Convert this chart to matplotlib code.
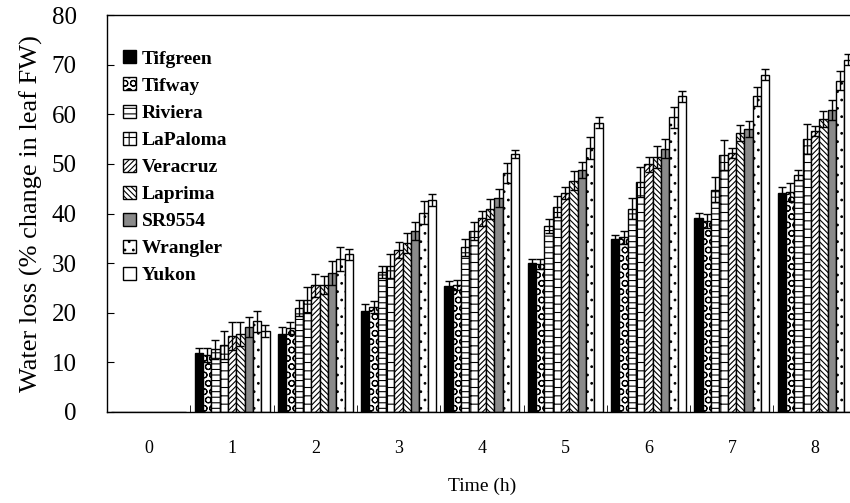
import numpy as np
import matplotlib
matplotlib.use("Agg")
import matplotlib.pyplot as plt
from matplotlib.ticker import MultipleLocator

plt.rcParams['font.family'] = ['Liberation Serif', 'DejaVu Serif']
plt.rcParams['hatch.linewidth'] = 0.8

hours = [0, 1, 2, 3, 4, 5, 6, 7, 8]
cultivars = ['Tifgreen', 'Tifway', 'Riviera', 'LaPaloma', 'Veracruz',
             'Laprima', 'SR9554', 'Wrangler', 'Yukon']

# water loss (% change in leaf FW) per cultivar, hours 0..8
tifgreen = [0, 11.8, 15.8, 20.3, 25.4, 30.0, 34.8, 39.1, 44.2]
tifway = [0, 11.5, 17.0, 21.2, 25.5, 29.8, 35.2, 38.5, 44.4]
riviera = [0, 12.6, 21.0, 28.3, 33.2, 37.4, 41.0, 44.8, 47.8]
lapaloma = [0, 13.5, 22.5, 29.4, 36.5, 41.4, 46.3, 51.8, 55.0]
veracruz = [0, 15.3, 25.5, 32.6, 39.0, 44.2, 49.9, 52.2, 56.6]
laprima = [0, 15.7, 25.6, 34.0, 40.9, 46.6, 51.4, 56.3, 59.1]
sr9554 = [0, 17.2, 28.0, 36.4, 43.2, 48.7, 53.1, 57.1, 60.8]
wrangler = [0, 18.3, 30.8, 40.2, 48.2, 53.2, 59.4, 63.6, 66.8]
yukon = [0, 16.3, 31.8, 42.8, 52.0, 58.3, 63.6, 68.0, 71.0]

# error bars
tifgreen_err = [0, 1.0, 1.3, 1.4, 1.0, 0.9, 0.9, 1.0, 1.2]
tifway_err = [0, 1.4, 1.2, 1.2, 1.0, 1.0, 1.3, 1.5, 1.8]
riviera_err = [0, 1.9, 1.6, 1.2, 1.7, 1.4, 2.2, 2.5, 1.0]
lapaloma_err = [0, 2.8, 2.6, 2.4, 1.8, 2.1, 3.0, 3.0, 3.0]
veracruz_err = [0, 2.8, 2.4, 1.6, 1.6, 1.2, 1.5, 1.0, 1.0]
laprima_err = [0, 2.5, 1.9, 2.0, 2.0, 1.9, 2.2, 1.6, 1.6]
sr9554_err = [0, 2.0, 2.4, 1.8, 1.8, 1.6, 2.0, 1.6, 2.0]
wrangler_err = [0, 2.1, 2.4, 2.3, 2.0, 2.3, 2.1, 2.0, 2.0]
yukon_err = [0, 1.2, 1.1, 1.2, 0.8, 1.1, 1.1, 1.1, 1.1]

values = [tifgreen, tifway, riviera, lapaloma, veracruz, laprima, sr9554, wrangler, yukon]
errors = [tifgreen_err, tifway_err, riviera_err, lapaloma_err, veracruz_err,
          laprima_err, sr9554_err, wrangler_err, yukon_err]

# fill / hatch for each cultivar
styles = [('black', None), ('white', 'OO'), ('white', '---'), ('white', '++'),
          ('white', '//////'), ('white', '\\\\\\\\\\\\'), ('#8a8a8a', None),
          ('white', '..'), ('white', None)]

fig = plt.figure(figsize=(8.5, 5.03), dpi=100)
ax = fig.add_axes([0.126, 0.181, 0.882, 0.789])

x = np.arange(len(hours))
width = 0.1
for i, name in enumerate(cultivars):
    fc, hatch = styles[i]
    pos = x - 0.4 + i * width
    ax.bar(pos, values[i], width, color=fc, edgecolor='black', hatch=hatch,
           linewidth=1.0, label=name)
    mask = np.array(values[i]) > 0
    ax.errorbar(pos[mask], np.array(values[i])[mask], yerr=np.array(errors[i])[mask],
                fmt='none', ecolor='black', elinewidth=1.0, capsize=3, capthick=1.0)

ax.set_xlim(-0.5, 8.5)
ax.set_ylim(0, 80)
ax.set_xticks(x)
ax.set_xticklabels([str(h) for h in hours], fontsize=13)
ax.xaxis.set_minor_locator(MultipleLocator(1, offset=0.5))
ax.tick_params(axis='x', which='major', length=0, pad=20)
ax.tick_params(axis='x', which='minor', direction='in', length=5)
ax.yaxis.set_major_locator(MultipleLocator(10))
ax.tick_params(axis='y', direction='in', length=5, labelsize=18, pad=22)

ax.set_xlabel('Time (h)', fontsize=14, labelpad=15)
ax.set_ylabel('Water loss (% change in leaf FW)', fontsize=19, labelpad=6)

for s in ax.spines.values():
    s.set_linewidth(1.0)

ax.legend(loc='upper left', bbox_to_anchor=(-0.002, 0.955), frameon=False,
          prop={'family': 'Liberation Serif', 'weight': 'bold', 'size': 14},
          handlelength=0.65, handleheight=0.65, handletextpad=0.3,
          labelspacing=0.5)

fig.savefig('out.png', dpi=100)
